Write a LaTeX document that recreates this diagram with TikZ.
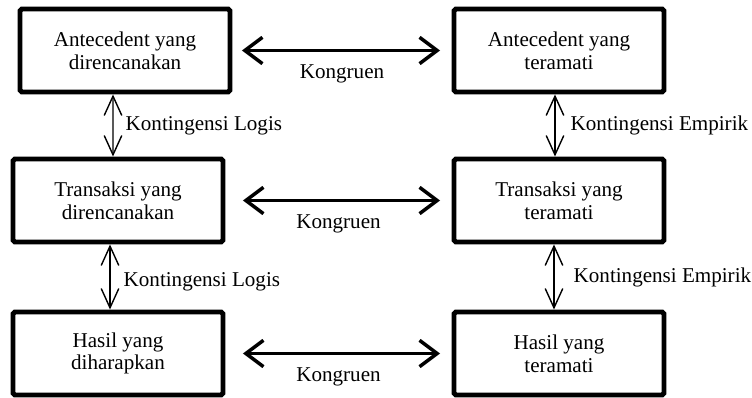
\documentclass[tikz,border=0pt]{standalone}
\usepackage{fontspec}
\setmainfont{Liberation Serif}
\usetikzlibrary{arrows.meta}

\tikzset{
	box/.style={draw, line width=2.8pt, rounded corners=1pt, minimum width=4.2cm, minimum height=1.66cm, align=center},
	kongruen/.style={{Straight Barb[length=10pt,width=15pt]}-{Straight Barb[length=10pt,width=15pt]}, line width=2pt},
	konting/.style={{Straight Barb[length=11pt,width=10pt]}-{Straight Barb[length=11pt,width=10pt]}, line width=0.8pt},
	lbl/.style={inner sep=0pt}
}

\begin{document}
\begin{tikzpicture}[x=0.02cm, y=-0.02cm, font=\fontsize{12}{13}\selectfont]

	\useasboundingbox (0,0) rectangle (752,398);

	% draw planned column
	\node[box] (a_1) at (125,50.5) {Antecedent yang\\direncanakan};
	\node[box] (t_1) at (118,200.5) {Transaksi yang\\direncanakan};
	\node[box] (h_1) at (118,353.5) {Hasil yang\\diharapkan};

	% draw observed column
	\node[box] (a_2) at (559,50.5) {Antecedent yang\\teramati};
	\node[box] (t_2) at (559,200.5) {Transaksi yang\\teramati};
	\node[box] (h_2) at (559,353.5) {Hasil yang\\teramati};

	% draw congruence arrows
	\foreach \l/\r/\s in {a_1/a_2/0.19, t_1/t_2/0.35, h_1/h_2/0.35}
	{
		\draw[kongruen, shorten <=\s cm, shorten >=0.23cm] (\l) -- node[midway, yshift=-0.46cm] {Kongruen} (\r);
	}

	% draw contingency arrows
	\draw[konting] ([xshift=-0.24cm]a_1.south) -- node[lbl, right=0.24cm] {Kontingensi Logis} ([xshift=-0.1cm]t_1.north);
	\draw[konting] ([xshift=-0.16cm]t_1.south) -- node[lbl, right=0.26cm, yshift=-0.1cm] {Kontingensi Logis} ([xshift=-0.16cm]h_1.north);
	\draw[konting] ([xshift=-0.08cm]a_2.south) -- node[lbl, right=0.3cm] {Kontingensi Empirik} ([xshift=-0.08cm]t_2.north);
	\draw[konting] ([xshift=-0.1cm]t_2.south) -- node[lbl, right=0.38cm] {Kontingensi Empirik} ([xshift=-0.1cm]h_2.north);

\end{tikzpicture}
\end{document}
